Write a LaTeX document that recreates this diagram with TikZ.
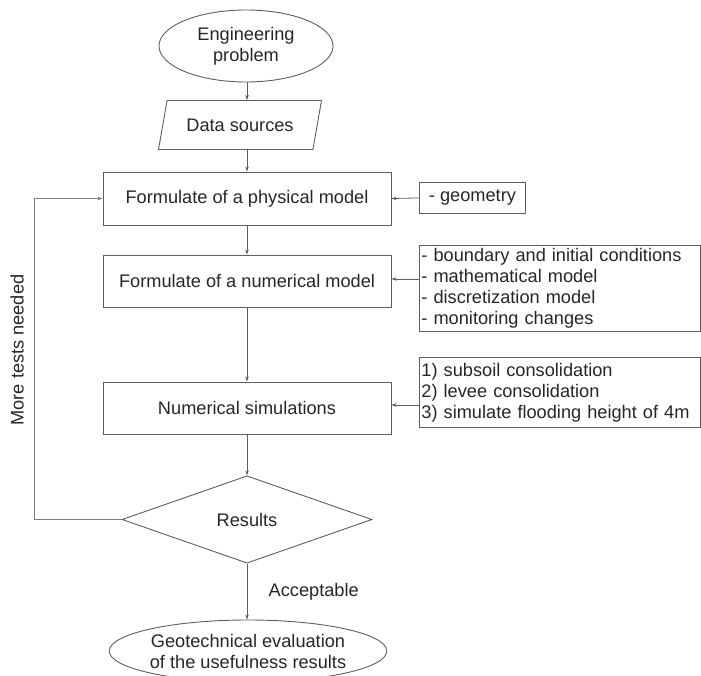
\documentclass[tikz,border=0pt]{standalone}
\usepackage{fontspec}
\setmainfont{Liberation Sans}
\usepackage{xcolor}
\usetikzlibrary{
  arrows.meta,
  shapes.geometric,
  positioning,
  calc
}
\definecolor{linegray}{HTML}{5E5E5E}
\definecolor{textgray}{HTML}{262626}
\tikzset{
  step box/.style={
    draw=linegray, rectangle, line width=0.9pt,
    minimum width=288pt, minimum height=53pt,
    text=textgray, align=center
  },
  term/.style={
    draw=linegray, ellipse, line width=0.9pt,
    text=textgray, align=center, inner sep=0pt
  },
  data io/.style={
    draw=linegray, trapezium, line width=0.9pt,
    trapezium left angle=71, trapezium right angle=109,
    trapezium stretches=true,
    minimum width=163pt, minimum height=49pt,
    text=textgray
  },
  decision/.style={
    draw=linegray, diamond, line width=0.9pt,
    minimum width=250pt, minimum height=85pt,
    text=textgray
  },
  note box/.style={
    draw=linegray, rectangle, line width=0.9pt,
    anchor=north west, align=left, text=textgray,
    inner xsep=2pt, inner ysep=1pt
  },
  flow arrow/.style={
    -{Stealth[length=5pt,width=3.5pt]}, line width=0.8pt, draw=linegray
  },
  back line/.style={
    -{Stealth[length=5pt,width=3.5pt]}, line width=0.6pt, draw=linegray!80
  },
}

\begin{document}
\begin{tikzpicture}[x=1pt, y=-1pt,
  font=\fontsize{18.2}{21}\selectfont]

  \useasboundingbox (0,0) rectangle (701,676);

  % Main chain
  \node[term, minimum width=174pt, minimum height=72pt] (problem) at (246,46)
    {Engineering\\problem};
  \node[data io] (sources) at (240,125) {Data sources};
  \node[step box] (physical) at (247,198.5) {Formulate of a physical model};
  \node[step box, minimum height=52pt] (numerical) at (247,281)
    {Formulate of a numerical model};
  \node[step box, minimum height=52pt] (simulations) at (247,408)
    {Numerical simulations};
  \node[decision] (results) at (247,519.5) {Results};
  \node[term, minimum width=240pt, minimum height=62pt] (evaluation) at (248,651)
    {Geotechnical evaluation\\of the usefulness results};

  % Input boxes on the right
  \node[note box, minimum width=106pt, minimum height=31pt] (geometry) at (419,182)
    {- geometry};
  \node[note box, text width=277pt, minimum height=86pt] (conditions) at (419,245)
    {- boundary and initial conditions\\
     - mathematical model\\
     - discretization model\\
     - monitoring changes};
  \node[note box, text width=277pt, minimum height=70pt] (stages) at (419,357)
    {1) subsoil consolidation\\
     2) levee consolidation\\
     3) simulate flooding height of 4m};

  % Arrows down
  \draw[flow arrow] (problem.south -| physical) -- (sources.north -| physical);
  \draw[flow arrow] (sources.south -| physical) -- (physical);
  \draw[flow arrow] (physical) -- (numerical);
  \draw[flow arrow] (numerical) -- (simulations);
  \draw[flow arrow] (simulations) -- (results);
  \draw[flow arrow] (results) -- (evaluation.north -| results)
    node[midway, right=18pt, text=textgray] {Acceptable};

  % Arrows from the right
  \draw[flow arrow] (geometry.west) -- (physical.east);
  \draw[flow arrow] (conditions.west |- 0,279) -- (numerical.east |- 0,279);
  \draw[flow arrow] (stages.west |- 0,405) -- (simulations.east |- 0,405);

  % Loop back
  \coordinate (loop) at (34,519.5);
  \draw[back line] (results.west) -- (loop) |- (physical.west);
  \node[rotate=90, text=textgray] (moretests) at (17,350) {More tests needed};

\end{tikzpicture}
\end{document}
